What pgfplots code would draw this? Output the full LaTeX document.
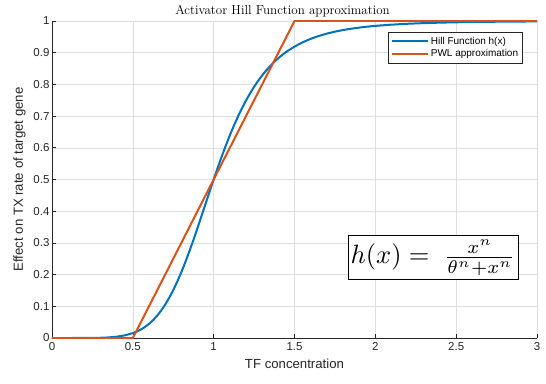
\documentclass[border=0pt]{standalone}
\usepackage{pgfplots}
\pgfplotsset{compat=1.18}
\usepackage{graphicx}
\usepackage{fontspec}
\setsansfont{Liberation Sans}
\definecolor{mblue}{rgb}{0,0.447,0.741}
\definecolor{morange}{rgb}{0.85,0.325,0.098}
\definecolor{axgray}{rgb}{0.15,0.15,0.15}
\begin{document}
\begin{tikzpicture}[x=1pt,y=1pt]
\useasboundingbox (-52,-45) rectangle (494,338);
\begin{axis}[
  at={(0,0)}, anchor=south west,
  scale only axis, width=485pt, height=317pt,
  xmin=0, xmax=3, ymin=0, ymax=1,
  axis x line*=bottom, axis y line*=left,
  axis line style={axgray, line width=0.6pt},
  xtick={0,0.5,...,3}, ytick={0,0.1,...,1},
  tick align=inside, major tick length=4pt,
  tick style={axgray, line width=0.6pt},
  grid=major, grid style={color=black!13, line width=0.5pt},
  /pgf/number format/assume math mode=true,
  ticklabel style={font=\sffamily\fontsize{11.5}{13}\selectfont, text=axgray},
  xticklabel style={yshift=-1pt},
  yticklabel style={xshift=1pt},
  xlabel={TF concentration}, ylabel={Effect on TX rate of target gene},
  label style={font=\sffamily\fontsize{13.2}{15}\selectfont, text=axgray},
  xlabel style={yshift=-1pt},
  ylabel style={yshift=1pt},
  title={Activator Hill Function approximation},
  title style={font=\rmfamily\fontsize{13}{15}\selectfont, yshift=-6pt, xshift=-12pt},
  legend style={at={(0.971,0.965)}, anchor=north east, draw=axgray, line width=0.6pt,
    font=\sffamily\fontsize{10}{12}\selectfont, row sep=0pt, inner sep=2.5pt},
  legend cell align=left,
  legend image code/.code={\draw[#1] (0pt,0pt) -- (36pt,0pt);},
]
\addplot[mblue, line width=2pt, line join=round] coordinates {
(0,0) (0.1,0.000001) (0.15,0.000011) (0.2,0.000064) (0.25,0.000244) (0.3,0.000729) (0.35,0.001835) (0.4,0.00408) (0.45,0.008236)
(0.5,0.01538) (0.525,0.02051) (0.55,0.02693) (0.575,0.03488) (0.6,0.04458) (0.625,0.05625) (0.65,0.07013) (0.675,0.08641)
(0.7,0.10527) (0.725,0.12680) (0.75,0.15109) (0.775,0.17809)
(0.8,0.20770) (0.825,0.23972) (0.85,0.27385) (0.875,0.30980) (0.9,0.34700) (0.925,0.38514) (0.95,0.42365) (0.975,0.46210)
(1.0,0.5) (1.025,0.53698) (1.05,0.57266) (1.075,0.60681)
(1.1,0.63917) (1.125,0.66967) (1.15,0.69816) (1.175,0.72465) (1.2,0.74912) (1.225,0.77164) (1.25,0.79230) (1.275,0.81118)
(1.3,0.82837) (1.325,0.84402) (1.35,0.85822) (1.375,0.87110)
(1.4,0.88276) (1.425,0.89331) (1.45,0.90286) (1.5,0.91930) (1.55,0.93274) (1.6,0.94375) (1.65,0.95279) (1.7,0.96022)
(1.75,0.96636) (1.8,0.97147) (1.85,0.97566) (1.9,0.97919) (1.95,0.98214)
(2.0,0.98462) (2.1,0.98847) (2.2,0.99126) (2.3,0.99329) (2.4,0.99479) (2.5,0.99593) (2.6,0.99677) (2.7,0.99742)
(2.8,0.99793) (2.9,0.99832) (3.0,0.99863)
};
\addlegendentry{Hill Function h(x)}
\addplot[morange, line width=2pt, line join=round] coordinates {(0,0) (0.5,0) (1.5,1) (3,1)};
\addlegendentry{PWL approximation}
\node[draw=black, line width=0.6pt, fill=white, inner xsep=2.5pt, inner ysep=4pt]
  at (axis cs:2.357,0.254) {\scalebox{2.65}{$h(x)=\;\frac{x^n}{\theta^n+x^n}$}};
\end{axis}
\end{tikzpicture}
\end{document}
